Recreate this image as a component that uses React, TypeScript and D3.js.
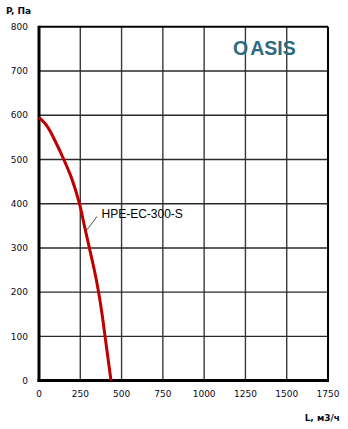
import React from "react";
import * as d3 from "d3";

const airflow = [0, 50, 100, 150, 200, 245, 275, 305, 335, 361, 382, 400, 418, 436];
const pressure = [595, 575, 540, 500, 455, 400, 350, 300, 250, 200, 150, 100, 50, 0];
const xTicks = [0, 250, 500, 750, 1000, 1250, 1500, 1750];
const yTicks = [0, 100, 200, 300, 400, 500, 600, 700, 800];
const seriesName = "HPE-EC-300-S";
const brand = ["O", "ASIS"];
const yTitle = "P, Па";
const xTitle = "L, м3/ч";

export default function App() {
  const W = 348, H = 429;
  const x = d3.scaleLinear().domain([0, 1750]).range([39, 328]);
  const y = d3.scaleLinear().domain([0, 800]).range([380.6, 26.8]);
  const pts: [number, number][] = airflow.map((a, i) => [x(a), y(pressure[i])]);
  const line = d3.line<[number, number]>().curve(d3.curveCatmullRom.alpha(0.5))(pts) || "";
  const tickFont = "'DejaVu Sans', Verdana, sans-serif";
  return (
    <svg width={W} height={H} style={{ position: "absolute", left: 0, top: 0, background: "#fff" }}>
      <rect x={0} y={0} width={W} height={H} fill="#fff" />
      {xTicks.slice(1, -1).map((t) => (
        <line key={"gx" + t} x1={x(t)} x2={x(t)} y1={y(800)} y2={y(0)} stroke="#3a3a3a" strokeWidth={1.4} />
      ))}
      {yTicks.slice(1, -1).map((t) => (
        <line key={"gy" + t} x1={x(0)} x2={x(1750)} y1={y(t)} y2={y(t)} stroke="#2a2a2a" strokeWidth={1.4} />
      ))}
      <line x1={x(0)} x2={x(1750)} y1={y(800)} y2={y(800)} stroke="#000" strokeWidth={2} />
      <line x1={x(1750)} x2={x(1750)} y1={y(800)} y2={y(0)} stroke="#000" strokeWidth={2} />
      <line x1={x(0)} x2={x(0)} y1={y(800) - 1} y2={y(0) + 1.5} stroke="#000" strokeWidth={3} />
      <line x1={x(0) - 1.5} x2={x(1750) + 1} y1={y(0)} y2={y(0)} stroke="#000" strokeWidth={3} />
      <path d={line} fill="none" stroke="#C00000" strokeWidth={3} strokeLinejoin="round" />
      {yTicks.map((t) => (
        <text key={"ty" + t} x={28} y={y(t)} dy="0.35em" textAnchor="end" fontFamily={tickFont} fontSize={9} fill="#0a0a1a">
          {t}
        </text>
      ))}
      {xTicks.map((t) => (
        <text key={"tx" + t} x={x(t)} y={393.5} dy="0.35em" textAnchor="middle" fontFamily={tickFont} fontSize={9} fill="#0a0a1a">
          {t}
        </text>
      ))}
      <text x={6} y={14} fontFamily={tickFont} fontSize={9} fontWeight="bold" fill="#0a0a1a">{yTitle}</text>
      <text x={340} y={418} dy="0.35em" textAnchor="end" fontFamily={tickFont} fontSize={9} fontWeight="bold" fill="#0a0a1a">{xTitle}</text>
      <line x1={86} y1={231} x2={97} y2={216.5} stroke="#222" strokeWidth={0.8} />
      <text x={101.5} y={218.3} fontFamily="'Liberation Sans', Arial, sans-serif" fontSize={12} fill="#000">{seriesName}</text>
      <text x={233} y={54.5} fontFamily="'Liberation Sans', Arial, sans-serif" fontSize={19.5} fontWeight="bold" fill="#2A6B7E">
        <tspan>{brand[0]}</tspan>
        <tspan dx={2}>{brand[1]}</tspan>
      </text>
    </svg>
  );
}
